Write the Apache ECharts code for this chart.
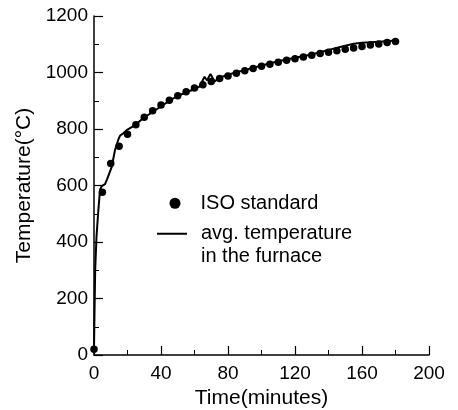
<!DOCTYPE html>
<html>
<head>
<meta charset="utf-8">
<script src="https://cdn.jsdelivr.net/npm/echarts@6/dist/echarts.min.js"></script>
<style>
html,body{margin:0;padding:0;background:#fff;}
#chart{width:458px;height:410px;}
</style>
</head>
<body>
<div id="chart"></div>
<script>
// ISO standard fire curve (every 5 minutes)
const isoTime = [0,5,10,15,20,25,30,35,40,45,50,55,60,65,70,75,80,85,90,95,100,105,110,115,120,125,130,135,140,145,150,155,160,165,170,175,180];
const isoTemp = [20,576,678,739,781,815,842,865,885,902,918,932,945,957,968,979,988,997,1006,1014,1022,1029,1036,1043,1049,1055,1061,1067,1072,1077,1082,1087,1092,1097,1101,1106,1110];

// Average temperature in the furnace
const lineTime = [0,0.3,0.7,1.5,2.6,3.6,4.6,6.6,8,10.6,12.5,14.5,15.5,17.5,19.5,23.5,29.4,39.4,49.4,59.3,63,66,67.5,69.5,72,75,80,86,90,100,110,120,130,140,150,155,160,170,180];
const lineTemp = [20,150,300,420,513,585,598,605,625,666,725,762,776,785,796,810,838,878,916,940,950,985,972,995,968,982,992,1003,1008,1025,1040,1052,1064,1080,1095,1102,1105,1109,1113];

const xTicks = {min:0, max:200, interval:40};
const yTicks = {min:0, max:1200, interval:200};

const isoName = 'ISO standard';
const lineName = 'avg. temperature\nin the furnace';

const FONT = "'Liberation Sans', Arial, sans-serif";

const chart = echarts.init(document.getElementById('chart'), null, {renderer:'canvas'});

function axisCommon(){
  return {
    type:'value',
    axisLine:{show:true, lineStyle:{color:'#000', width:1.5}},
    axisTick:{show:true, inside:true, length:9, lineStyle:{color:'#000', width:1.2}},
    minorTick:{show:true, splitNumber:2, length:5, lineStyle:{color:'#000', width:1}},
    splitLine:{show:false},
    axisLabel:{color:'#000', fontSize:19, fontFamily:FONT, formatter:(v)=>String(v)},
    nameLocation:'middle',
    nameTextStyle:{color:'#000', fontSize:21, fontFamily:FONT}
  };
}

const xAxis = Object.assign(axisCommon(), {
  min:xTicks.min, max:xTicks.max, interval:xTicks.interval,
  name:'Time(minutes)', nameGap:30
});
xAxis.axisLabel = Object.assign({}, xAxis.axisLabel, {margin:9});

const yAxis = Object.assign(axisCommon(), {
  min:yTicks.min, max:yTicks.max, interval:yTicks.interval,
  name:'Temperature(\u00B0C)', nameGap:50
});
yAxis.axisLabel = Object.assign({}, yAxis.axisLabel, {margin:6});

const legendText = {color:'#000', fontSize:20, fontFamily:FONT, lineHeight:22.5};

chart.setOption({
  animation:false,
  backgroundColor:'#fff',
  grid:{left:94, right:29, top:16, bottom:55, containLabel:false, outerBoundsMode:'none'},
  legend:[
    {
      data:[{name:isoName, icon:'circle'}],
      left:169.5, top:192, padding:0,
      itemWidth:11, itemHeight:11,
      formatter:(n)=>'{g|}' + n,
      textStyle:Object.assign({rich:{g:{width:15}}}, legendText)
    },
    {
      data:[{name:lineName, icon:'rect'}],
      left:157, top:200, padding:0,
      itemWidth:30, itemHeight:2,
      formatter:(n)=>'\u00A0\n' + n.split('\n').map(s=>'{g|}' + s).join('\n'),
      textStyle:Object.assign({rich:{g:{width:9}}}, legendText)
    }
  ],
  xAxis:xAxis,
  yAxis:yAxis,
  series:[
    {
      name:lineName,
      type:'line',
      data:lineTime.map((t,i)=>[t, lineTemp[i]]),
      symbol:'none',
      lineStyle:{color:'#000', width:2},
      itemStyle:{color:'#000'},
      z:2
    },
    {
      name:isoName,
      type:'scatter',
      data:isoTime.map((t,i)=>[t, isoTemp[i]]),
      symbol:'circle',
      symbolSize:7.5,
      itemStyle:{color:'#000', opacity:1},
      z:3
    }
  ]
});
</script>
</body>
</html>
